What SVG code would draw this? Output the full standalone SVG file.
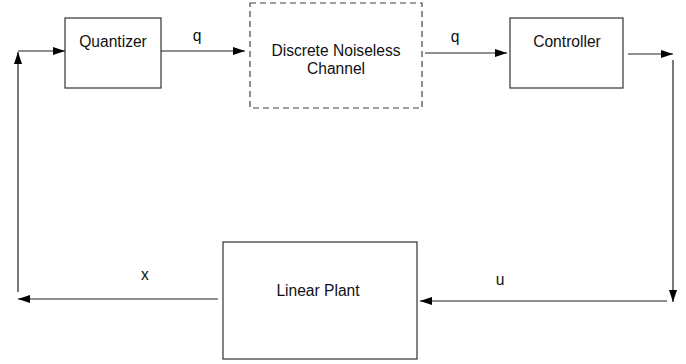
<svg xmlns="http://www.w3.org/2000/svg" width="686" height="364" viewBox="0 0 686 364">
<style>
.box{fill:#fff;stroke:#333;stroke-width:1.2}
.dash{fill:#fff;stroke:#444;stroke-width:1.2;stroke-dasharray:6,4}
.lbl{font-family:"Liberation Sans",Arial,sans-serif;font-size:15.6px;fill:#111;text-anchor:middle}
.wire{fill:none;stroke:#222;stroke-width:1.2}
</style>
<defs>
<marker id="ah" markerUnits="userSpaceOnUse" markerWidth="12" markerHeight="10" viewBox="0 0 12 10" refX="12" refY="5" orient="auto">
<path d="M0,1 L12,5 L0,9 Z" fill="#000"/>
</marker>
</defs>
<g id="quantizer">
<rect class="box" x="65" y="18" width="96" height="70"/>
<text class="lbl" x="113" y="47">Quantizer</text>
</g>
<g id="channel">
<rect class="dash" x="250" y="3" width="172" height="105"/>
<text class="lbl" x="336" y="56">Discrete Noiseless</text>
<text class="lbl" x="336" y="74">Channel</text>
</g>
<g id="controller">
<rect class="box" x="510" y="18" width="113" height="70"/>
<text class="lbl" x="567" y="47">Controller</text>
</g>
<g id="plant">
<rect class="box" x="223" y="242" width="194" height="117"/>
<text class="lbl" x="318" y="296">Linear Plant</text>
</g>
<g id="connectors">
<line class="wire" x1="18" y1="51" x2="65" y2="51" marker-end="url(#ah)"/>
<line class="wire" x1="18" y1="292" x2="18" y2="52" marker-end="url(#ah)"/>
<line class="wire" x1="161" y1="51" x2="245" y2="51" marker-end="url(#ah)"/>
<line class="wire" x1="425" y1="53" x2="507" y2="53" marker-end="url(#ah)"/>
<line class="wire" x1="628" y1="54" x2="673" y2="54" marker-end="url(#ah)"/>
<line class="wire" x1="673" y1="60" x2="673" y2="302" marker-end="url(#ah)"/>
<line class="wire" x1="667" y1="301" x2="420" y2="301" marker-end="url(#ah)"/>
<line class="wire" x1="218" y1="299" x2="18" y2="299" marker-end="url(#ah)"/>
<text class="lbl" x="197" y="41">q</text>
<text class="lbl" x="455" y="42">q</text>
<text class="lbl" x="500" y="285">u</text>
<text class="lbl" x="145" y="280">x</text>
</g>
</svg>
